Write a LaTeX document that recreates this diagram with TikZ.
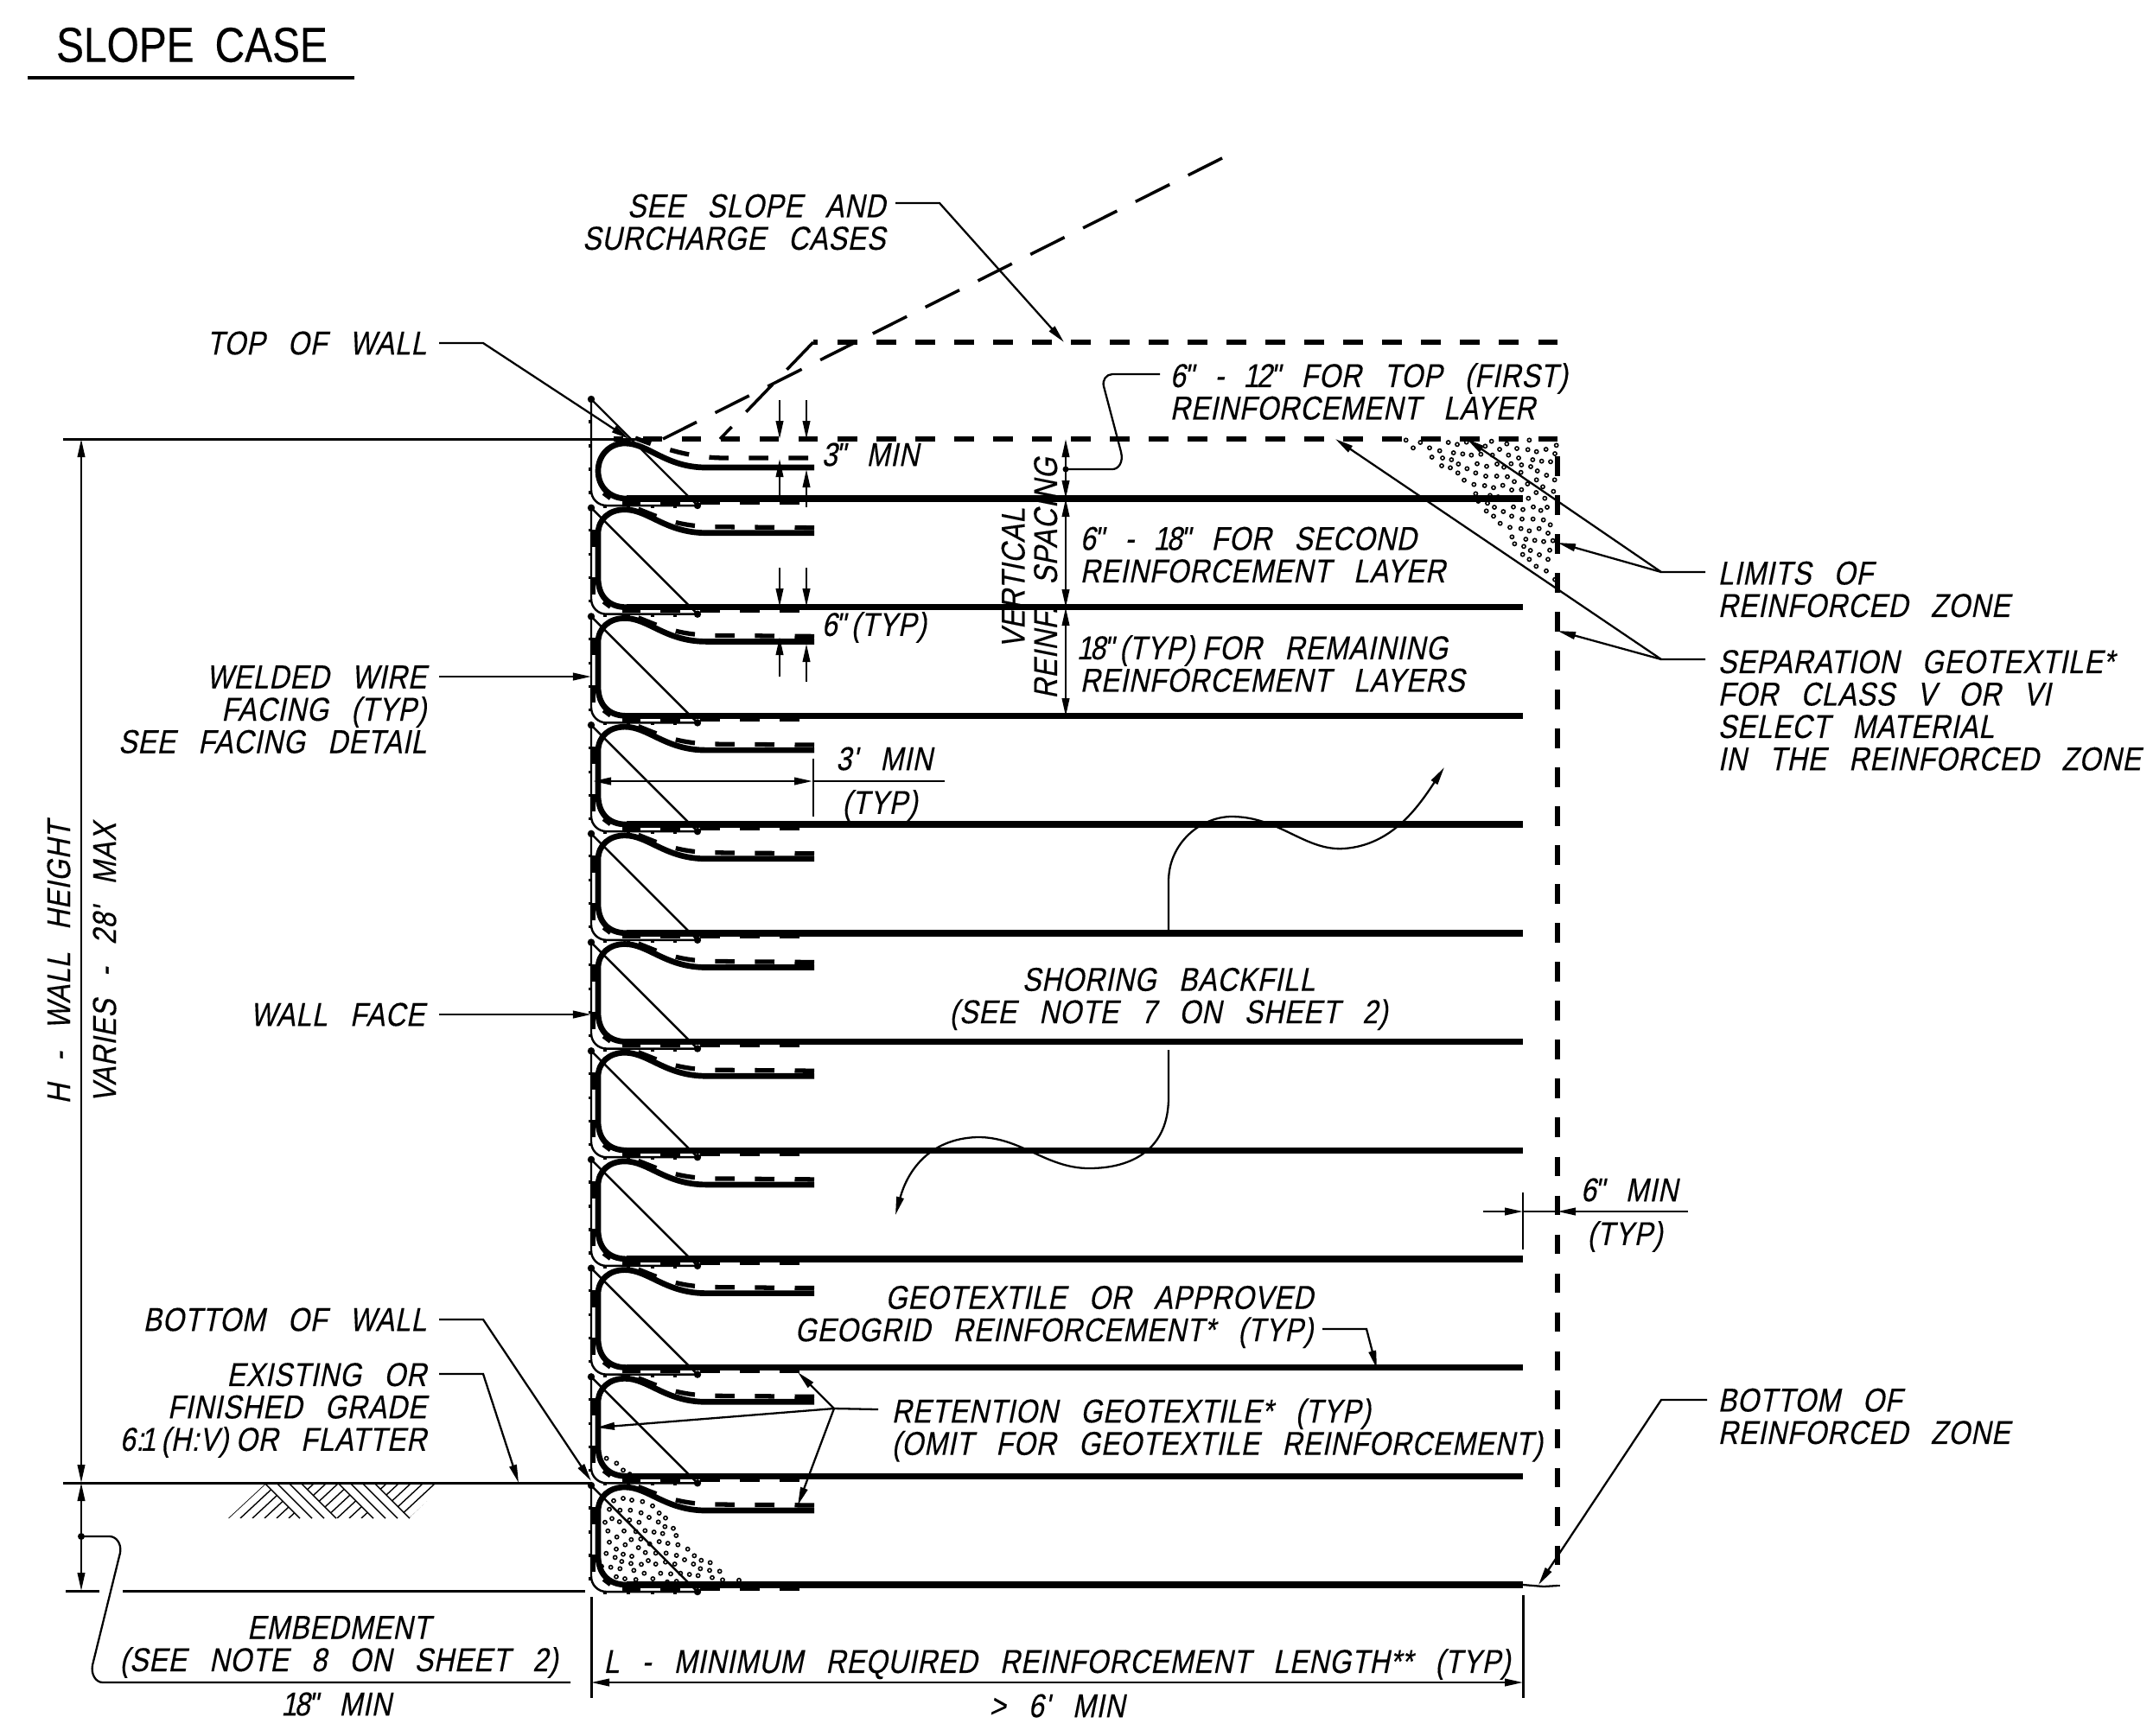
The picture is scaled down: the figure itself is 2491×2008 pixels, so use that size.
\documentclass[tikz,border=0pt]{standalone}
\usepackage{fontspec}
\usetikzlibrary{arrows.meta}
\newfontfamily\lblf[FakeSlant=0.2,FakeStretch=0.84,WordSpace=2.7,LetterSpace=2,FakeBold=0.25]{Liberation Sans}
\newfontfamily\ttlf[FakeStretch=0.84,WordSpace=1.8,FakeBold=0.3]{Liberation Sans}
\newcommand{\inch}{\kern-0.06em"\kern-0.04em}
\newcommand{\ones}{\kern-0.1em 1\kern-0.07em}
\newcommand{\tsp}{\kern0.22em}
\tikzset{
  lbl/.style={inner sep=0pt,font=\lblf\fontsize{10.9}{10.66}\selectfont},
  lr/.style={lbl,anchor=east,align=right},
  ll/.style={lbl,anchor=west,align=left},
  lc/.style={lbl,align=center},
  thin line/.style={line width=0.65pt,line cap=butt},
  level/.style={line width=0.85pt},
  ldr/.style={thin line,-{Triangle[length=0.21cm,width=0.085cm]},rounded corners=0pt},
  dim/.style={thin line,{Triangle[length=0.21cm,width=0.085cm]}-{Triangle[length=0.21cm,width=0.085cm]}},
  reinf/.style={line width=2.1pt,line join=round},
  tail/.style={line width=1.9pt},
  geo/.style={line width=1.5pt,dash pattern=on 0.225cm off 0.235cm},
  wire/.style={line width=0.7pt},
  slope/.style={line width=1pt,dash pattern=on 0.44cm off 0.24cm},
  zone/.style={line width=1.6pt,dash pattern=on 0.225cm off 0.225cm},
  hatchl/.style={line width=0.4pt},
  stip/.style={line width=0.45pt},
  blob/.style={fill=black,draw=none},
}
\begin{document}
\begin{tikzpicture}[x=0.01cm,y=-0.01cm]
\useasboundingbox (0,0) rectangle (2491,2008);
% title
\node[inner sep=0pt,font=\ttlf\fontsize{16.2}{16}\selectfont] (title) at (222,52) {SLOPE CASE};
\draw[line width=1pt] (32,90) -- (410,90);
% stipple (behind everything)
\foreach \x/\y in {185/383,220/400,243/424,266/438,210/530,243/522,273/528,310/533,345/548,195/560,232/563,268/563,305/572,333/588,368/573,390/590,180/605,204/592,230/603,265/597,298/605,365/604,388/620,417/626,190/635,246/635,287/637,319/634,350/639,380/644,427/651,221/656,271/665,304/663,195/674,250/683,335/680,368/672,398/678,433/683,219/698,296/693,467/698,184/713,243/716,273/723,320/710,356/712,392/712,428/720,490/721,215/727,238/741,270/748,306/751,330/738,356/750,390/743,422/750,456/735,487/750,514/737,545/745,168/758,200/761,232/766,280/772,316/782,373/782,408/784,442/782,473/786,511/766,543/772,578/775,219/794,249/801,287/804,346/801,396/812,428/810,503/790,552/797,588/805,645/806}
  \draw[stip] ({640+\x/3},{1560+\y/3}) circle (0.021cm);
\foreach \x/\y in {380/388,405/415,430/396,462/415,497/425,470/447,527/396,558/403,545/432,577/436,607/440,507/450,538/456,590/395,640/437,655/409,677/392,680/440,705/420,730/401,765/417,803/421,833/428,866/420,902/406,897/435,736/440,771/450,820/456,851/461,882/463,808/388,562/471,504/477,534/484,592/487,627/470,660/479,696/471,745/470,720/482,781/474,813/480,560/502,622/502,657/513,695/513,732/515,779/500,836/495,868/510,582/527,756/532,802/540,833/526,896/526,616/542,653/546,684/553,716/545,747/561,781/560,855/550,892/566,622/574,672/580,700/585,832/570,631/600,663/607,805/590,862/590,687/621,718/636,753/620,786/629,822/620,848/632,870/621,659/634,684/652,747/652,783/662,821/662,857/665,707/677,741/691,779/695,808/703,842/695,881/682,873/711,748/724,796/732,827/736,858/740,890/737,757/748,789/757,812/771,879/770,785/785,843/786,808/802,873/802,832/826,867/842,897/872}
  \draw[stip] ({1500+\x/3},{380+\y/3}) circle (0.021cm);
% cells
\foreach \i in {0,...,10}{
  \pgfmathsetmacro\yb{577+125.7*\i}
  % wire facing
  \draw[wire,rounded corners=5] (684,\yb-115) -- (684,\yb+8) -- (807,\yb+8);
  \draw[wire] (684,\yb-115) -- (807,\yb+8);
  \fill (684,\yb-115) circle (0.042cm);
  \fill (807,\yb+8) circle (0.042cm);
  \foreach \d in {-89,-61,-34,-7} \draw[line width=0.9pt] (681,\yb+\d) -- (685,\yb+\d);
  \foreach \x in {700,727,755,781} \draw[line width=0.9pt] (\x,\yb+7) -- (\x,\yb+11);
  \draw[line width=1.2pt] (698,\yb-6) -- (706,\yb);
  % dashed geotextile under the layer
  \draw[geo] (925,\yb+4) -- (720,\yb+4);
  \ifnum\i=0
    \draw[reinf] (1762,\yb) -- (725,\yb);
    \draw[tail] (725,\yb) .. controls (705,\yb) and (692,\yb-14) .. (692,\yb-32) .. controls (692,\yb-50) and (705,\yb-64) .. (723,\yb-64) .. controls (750,\yb-64) and (770,\yb-36) .. (817,\yb-36) -- (942,\yb-36);
    \draw[geo] (935,\yb-47) -- (840,\yb-47) .. controls (800,\yb-47) and (770,\yb-57) .. (735,\yb-70);
  \else
    \draw[reinf] (1762,\yb) -- (725,\yb);
    \draw[tail] (725,\yb) .. controls (703,\yb) and (692,\yb-14) .. (692,\yb-34) -- (692,\yb-85) .. controls (692,\yb-102) and (705,\yb-113) .. (723,\yb-113) .. controls (750,\yb-113) and (770,\yb-86) .. (817,\yb-86) -- (942,\yb-86);
    \draw[geo] (942,\yb-92) -- (830,\yb-93) .. controls (785,\yb-93) and (765,\yb-103) .. (735,\yb-115);
    \draw[line width=1pt] (687,\yb-90) -- (687,\yb-70) (687,\yb-35) -- (687,\yb-15);
  \fi
}
% top dashed levels and slopes
\draw[zone] (1802,508) -- (710,508);
\draw[zone] (1802,396) -- (941,396);
\draw[slope] (1414,183) -- (767,508);
\draw[slope] (941,396) -- (833,508);
\draw[zone] (1802,528) -- (1802,1836);
\draw[thin line] (1762,1834) -- (1786,1836) -- (1802,1835);
% level lines
\draw[level] (73,508) -- (745,508);
\draw[level] (73,1716) -- (684,1716);
\draw[level] (76,1841) -- (115,1841);
\draw[level] (142,1841) -- (677,1841);
% hatching
\begin{scope}
  \clip (264,1757) -- (307,1717) -- (347,1757) -- cycle (390,1757) -- (349,1717) -- (392,1717) -- (432,1757) -- cycle (473,1757) -- (434,1717) -- (515,1717) -- cycle;
  \foreach \k in {0,...,18} \draw[hatchl] ({264+14*\k},1757) -- ({307+14*\k},1717);
\end{scope}
\begin{scope}
  \clip (0,1717) rectangle (600,1757);
  \foreach \t in {307,321,335,349,392,406,420,434} \draw[hatchl] (\t,1717) -- (\t+40,1757);
\end{scope}
% labels
\node[lr] (seeslope) at (1025,257) {SEE SLOPE AND\\SURCHARGE CASES};
\node[lr] (topwall) at (494,397) {TOP OF WALL};
\node[lr] (welded) at (494,821) {WELDED WIRE\\FACING (TYP)\\SEE FACING DETAIL};
\node[lr] (wallface) at (492,1174) {WALL FACE};
\node[lr] (botwall) at (494,1527) {BOTTOM OF WALL};
\node[lr] (existing) at (494,1632) {EXISTING OR\\FINISHED GRADE\\6:\ones\tsp(H:V)\tsp OR FLATTER};
\node[lbl,rotate=90] (hwall) at (68,1114) {H - WALL HEIGHT};
\node[lbl,rotate=90] (varies) at (121,1114) {VARIES - 28' MAX};
\node[lc] (embed) at (392,1906) {EMBEDMENT\\(SEE NOTE 8 ON SHEET 2)};
\node[lbl] (e18) at (391,1972) {\ones 8\inch{} MIN};
\node[lbl] (lmin) at (1223,1926) {L - MINIMUM REQUIRED REINFORCEMENT LENGTH** (TYP)};
\node[lbl] (l6) at (1223,1974) {> 6' MIN};
\node[ll] (t1) at (1353,453) {6\inch{} - \ones 2\inch{} FOR TOP (FIRST)\\REINFORCEMENT LAYER};
\node[ll] (t2) at (1249,642) {6\inch{} - \ones 8\inch{} FOR SECOND\\REINFORCEMENT LAYER};
\node[ll] (t3) at (1249,768) {\ones 8\inch\tsp(TYP)\tsp FOR REMAINING\\REINFORCEMENT LAYERS};
\node[lc,rotate=90] (vert) at (1191,669) {VERTICAL\\REINF. SPACING};
\node[ll] (m3) at (950,526) {3\inch{} MIN};
\node[ll] (m6) at (950,726) {6\inch\tsp(TYP)};
\node[lbl] (d3a) at (1023,878) {3' MIN};
\node[lbl] (d3b) at (1018,932) {(TYP)};
\node[lc] (shor) at (1352,1156) {SHORING BACKFILL\\(SEE NOTE 7 ON SHEET 2)};
\node[lbl] (d6a) at (1885,1377) {6\inch{} MIN};
\node[lbl] (d6b) at (1880,1431) {(TYP)};
\node[ll] (lim) at (1987,682) {LIMITS OF\\REINFORCED ZONE};
\node[ll] (sep) at (1987,822) {SEPARATION GEOTEXTILE*\\FOR CLASS V OR VI\\SELECT MATERIAL\\IN THE REINFORCED ZONE};
\node[lr] (geog) at (1520,1524) {GEOTEXTILE OR APPROVED\\GEOGRID REINFORCEMENT* (TYP)};
\node[ll] (ret) at (1031,1655) {RETENTION GEOTEXTILE* (TYP)\\(OMIT FOR GEOTEXTILE REINFORCEMENT)};
\node[ll] (botz) at (1987,1639) {BOTTOM OF\\REINFORCED ZONE};
% leader start and end points
\coordinate (s1) at (1036,235); \coordinate (s1k) at (1087,235); \coordinate (s1t) at (1231,396);
\coordinate (s2) at (508,397); \coordinate (s2k) at (559,397); \coordinate (s2t) at (728,508);
\coordinate (s3) at (508,783); \coordinate (s3t) at (684,783);
\coordinate (s4) at (508,1174); \coordinate (s4t) at (684,1174);
\coordinate (s5) at (508,1527); \coordinate (s5k) at (559,1527); \coordinate (s5t) at (684,1714);
\coordinate (s6) at (508,1590); \coordinate (s6k) at (559,1590); \coordinate (s6t) at (600,1716);
\draw[ldr] (s1) -- (s1k) -- (s1t);
\draw[ldr] (s2) -- (s2k) -- (s2t);
\draw[ldr] (s3) -- (s3t);
\draw[ldr] (s4) -- (s4t);
\draw[ldr] (s5) -- (s5k) -- (s5t);
\draw[ldr] (s6) -- (s6k) -- (s6t);
% left height dimensions
\coordinate (h0) at (94,508); \coordinate (h1) at (94,1716); \coordinate (h2) at (94,1841);
\draw[dim] (h0) -- (h1);
\draw[dim] (h1) -- (h2);
% embedment leader
\coordinate (emb0) at (94,1778); \coordinate (emb1) at (660,1947);
\fill (emb0) circle (0.04cm);
\draw[thin line] (emb0) -- (127,1778) .. controls (134,1778) and (141,1786) .. (139,1797) -- (107,1927) .. controls (105,1938) and (111,1947) .. (119,1947) -- (emb1);
% L dimension
\coordinate (la) at (684,1947); \coordinate (lb) at (1762,1947);
\draw[dim] (la) -- (lb);
\draw[level] (684,1848) -- (684,1965);
\draw[level] (1762,1846) -- (1762,1965);
% top-layer leader
\coordinate (vd0) at (1233,508); \coordinate (vd1) at (1233,577); \coordinate (vd2) at (1233,703); \coordinate (vd3) at (1233,829);
\draw[dim] (vd0) -- (vd1);
\draw[dim] (vd1) -- (vd2);
\draw[dim] (vd2) -- (vd3);
\coordinate (tl) at (1342,433); \coordinate (tld) at (1233,543);
\fill (tld) circle (0.035cm);
\draw[thin line] (tl) -- (1287,433) .. controls (1280,433) and (1275,440) .. (1277,447) -- (1297,523) .. controls (1300,535) and (1294,543) .. (1287,543) -- (tld);
% small dimension arrows
\foreach \x/\a/\b in {902/463/508,933/463/508,902/657/702,933/657/702,902/575/531,933/587/543,902/783/737,933/789/745}
  \draw[ldr] (\x,\a) -- (\x,\b);
% 3' min
\coordinate (w3a) at (686,904); \coordinate (w3b) at (940,904); \coordinate (w3c) at (1093,904);
\draw[dim] (w3a) -- (w3b);
\draw[thin line] (w3b) -- (w3c);
\draw[thin line] (941,878) -- (941,945);
% shoring leaders
\coordinate (sh1) at (1352,1080); \coordinate (sh2) at (1352,1215);
\coordinate (sh1t) at (1671,888); \coordinate (sh2t) at (1036,1406);
\draw[ldr] (sh1) -- (1352,1020) .. controls (1352,975) and (1390,945) .. (1425,945) .. controls (1480,945) and (1510,985) .. (1555,982) .. controls (1610,978) and (1640,935) .. (sh1t);
\draw[ldr] (sh2) -- (1352,1270) .. controls (1352,1330) and (1310,1352) .. (1260,1352) .. controls (1210,1352) and (1180,1315) .. (1130,1316) .. controls (1075,1318) and (1050,1355) .. (sh2t);
% 6 min
\coordinate (m6a) at (1716,1402); \coordinate (m6b) at (1762,1402); \coordinate (m6c) at (1953,1402); \coordinate (m6d) at (1802,1402);
\draw[ldr] (m6a) -- (m6b);
\draw[ldr] (m6c) -- (m6d);
\draw[thin line] (1762,1380) -- (1762,1446);
\draw[thin line] (1762,1402) -- (1802,1402);
% right leaders
\coordinate (lim0) at (1973,662); \coordinate (limk) at (1922,662); \coordinate (limt1) at (1697,508); \coordinate (limt2) at (1802,628);
\draw[ldr] (lim0) -- (limk) -- (limt1);
\draw[ldr] (limk) -- (limt2);
\coordinate (sep0) at (1973,763); \coordinate (sepk) at (1922,763); \coordinate (sept1) at (1545,508); \coordinate (sept2) at (1802,730);
\draw[ldr] (sep0) -- (sepk) -- (sept1);
\draw[ldr] (sepk) -- (sept2);
\coordinate (bz0) at (1975,1620); \coordinate (bzk) at (1922,1620); \coordinate (bzt) at (1780,1834);
\draw[ldr] (bz0) -- (bzk) -- (bzt);
% geogrid leader
\coordinate (gg0) at (1530,1538); \coordinate (ggk) at (1581,1538); \coordinate (ggt) at (1593,1584);
\draw[ldr] (gg0) -- (ggk) -- (ggt);
% retention leaders
\coordinate (rt0) at (1016,1631); \coordinate (rtk) at (965,1630); \coordinate (rt1) at (923,1588); \coordinate (rt2) at (690,1652); \coordinate (rt3) at (923,1742);
\draw[thin line] (rt0) -- (rtk);
\draw[ldr] (rtk) -- (rt1);
\draw[ldr] (rtk) -- (rt2);
\draw[ldr] (rtk) -- (rt3);
\end{tikzpicture}
\end{document}
